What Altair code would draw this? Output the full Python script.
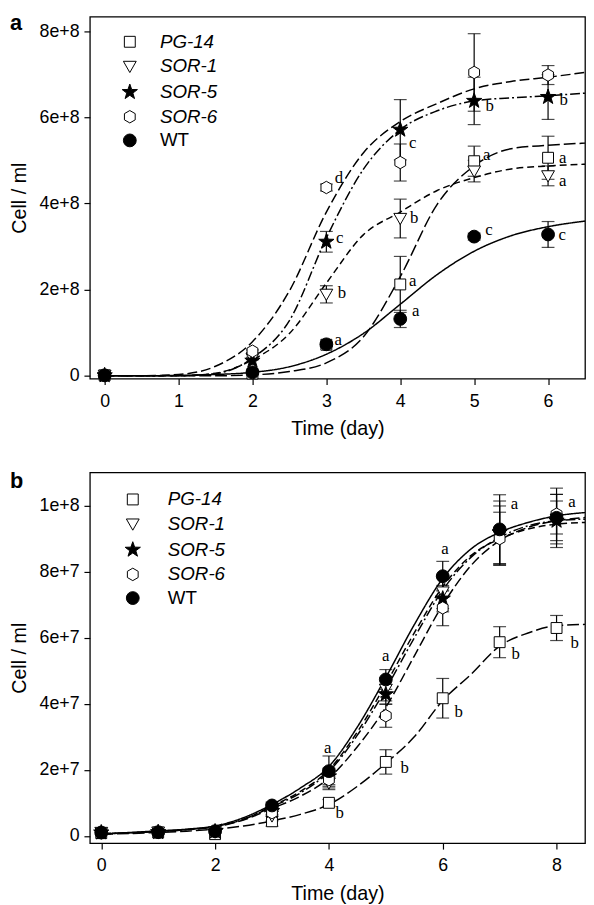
import altair as alt
import pandas as pd

strains = ["PG-14", "SOR-1", "SOR-5", "SOR-6", "WT"]
mutants = ["PG-14", "SOR-1", "SOR-5", "SOR-6"]

# ---------------- panel a ----------------
days_a = [0, 2, 3, 4, 5, 6]
a_pg14 = [0.01e8, 0.05e8, 0.72e8, 2.12e8, 4.98e8, 5.06e8]
a_pg14_err = [0, 0, 0, 0.65e8, 0.35e8, 0.50e8]
a_sor1 = [0.01e8, 0.40e8, 1.89e8, 3.65e8, 4.75e8, 4.64e8]
a_sor1_err = [0, 0.03e8, 0.20e8, 0.45e8, 0.25e8, 0.23e8]
a_sor5 = [0.01e8, 0.35e8, 3.11e8, 5.71e8, 6.38e8, 6.47e8]
a_sor5_err = [0, 0, 0.24e8, 0.70e8, 0.55e8, 0.52e8]
a_sor6 = [0.01e8, 0.57e8, 4.37e8, 4.95e8, 7.04e8, 6.98e8]
a_sor6_err = [0, 0.03e8, 0.08e8, 0.43e8, 0.90e8, 0.22e8]
a_wt = [0.01e8, 0.08e8, 0.73e8, 1.32e8, 3.23e8, 3.28e8]
a_wt_err = [0, 0.02e8, 0.05e8, 0.20e8, 0.08e8, 0.30e8]

curve_x_a = [0, 0.5, 1, 1.5, 2, 2.5, 3, 3.5, 4, 4.5, 5, 5.5, 6, 6.5]
fit_a_pg14 = [0, 0, 0, 0, 0.02e8, 0.10e8, 0.30e8, 0.90e8, 2.30e8, 3.98e8, 4.87e8, 5.27e8, 5.35e8, 5.40e8]
fit_a_sor1 = [0, 0, 0, 0.06e8, 0.37e8, 0.98e8, 2.15e8, 3.27e8, 3.80e8, 4.30e8, 4.60e8, 4.80e8, 4.87e8, 4.91e8]
fit_a_sor5 = [0, 0, 0, 0.05e8, 0.41e8, 1.28e8, 3.20e8, 4.79e8, 5.71e8, 6.15e8, 6.38e8, 6.45e8, 6.50e8, 6.56e8]
fit_a_sor6 = [0, 0, 0.03e8, 0.22e8, 0.79e8, 1.97e8, 3.80e8, 5.17e8, 5.90e8, 6.32e8, 6.66e8, 6.83e8, 6.93e8, 7.04e8]
fit_a_wt = [0, 0, 0.01e8, 0.03e8, 0.08e8, 0.21e8, 0.50e8, 0.98e8, 1.66e8, 2.35e8, 2.89e8, 3.25e8, 3.46e8, 3.59e8]

letters_a = ["d", "c", "b", "a", "c", "b", "a", "a", "b", "a", "c", "b", "a", "a", "c"]
letters_a_x = [3.17, 3.18, 3.21, 3.16, 4.17, 4.19, 4.17, 4.21, 5.21, 5.17, 5.20, 6.21, 6.20, 6.20, 6.19]
letters_a_y = [4.58e8, 3.19e8, 1.93e8, 0.84e8, 5.40e8, 3.65e8, 2.20e8, 1.51e8, 6.26e8, 5.12e8, 3.38e8,
               6.40e8, 5.06e8, 4.51e8, 3.27e8]

# ---------------- panel b ----------------
days_b = [0, 1, 2, 3, 4, 5, 6, 7, 8]
b_pg14 = [0.08e7, 0.10e7, 0.05e7, 0.44e7, 1.00e7, 2.24e7, 4.17e7, 5.87e7, 6.30e7]
b_pg14_err = [0, 0, 0, 0.15e7, 0.10e7, 0.37e7, 0.60e7, 0.47e7, 0.38e7]
b_sor1 = [0.10e7, 0.11e7, 0.12e7, 0.60e7, 1.60e7, 4.44e7, 7.39e7, 9.10e7, 9.60e7]
b_sor1_err = [0, 0, 0, 0.15e7, 0.20e7, 0.35e7, 0.50e7, 0.90e7, 0.75e7]
b_sor5 = [0.10e7, 0.11e7, 0.13e7, 0.75e7, 1.80e7, 4.29e7, 7.19e7, 9.20e7, 9.55e7]
b_sor5_err = [0, 0, 0, 0.10e7, 0.25e7, 0.30e7, 0.40e7, 0.95e7, 0.60e7]
b_sor6 = [0.09e7, 0.10e7, 0.12e7, 0.70e7, 1.70e7, 3.64e7, 6.91e7, 9.01e7, 9.75e7]
b_sor6_err = [0, 0, 0, 0.10e7, 0.25e7, 0.35e7, 0.54e7, 0.80e7, 0.60e7]
b_wt = [0.10e7, 0.11e7, 0.14e7, 0.92e7, 1.96e7, 4.74e7, 7.87e7, 9.29e7, 9.64e7]
b_wt_err = [0.05e7, 0.05e7, 0.05e7, 0.10e7, 0.46e7, 0.30e7, 0.45e7, 1.05e7, 0.90e7]

curve_x_b = [0, 0.5, 1, 1.5, 2, 2.5, 3, 3.5, 4, 4.5, 5, 5.5, 6, 6.5, 7, 7.5, 8, 8.5]
fit_b_pg14 = [0.05e7, 0.07e7, 0.10e7, 0.14e7, 0.20e7, 0.30e7, 0.45e7, 0.65e7, 0.95e7, 1.50e7, 2.20e7, 3.00e7,
              4.10e7, 4.90e7, 5.75e7, 6.15e7, 6.37e7, 6.41e7]
fit_b_sor1 = [0.06e7, 0.09e7, 0.13e7, 0.19e7, 0.28e7, 0.50e7, 0.90e7, 1.35e7, 2.00e7, 3.15e7, 4.60e7, 6.15e7,
              7.55e7, 8.50e7, 9.00e7, 9.30e7, 9.45e7, 9.50e7]
fit_b_sor5 = [0.06e7, 0.09e7, 0.13e7, 0.19e7, 0.28e7, 0.50e7, 0.88e7, 1.30e7, 1.95e7, 3.05e7, 4.45e7, 6.00e7,
              7.45e7, 8.45e7, 9.05e7, 9.40e7, 9.55e7, 9.60e7]
fit_b_sor6 = [0.06e7, 0.09e7, 0.13e7, 0.18e7, 0.27e7, 0.48e7, 0.83e7, 1.20e7, 1.75e7, 2.70e7, 3.90e7, 5.45e7,
              7.00e7, 8.20e7, 8.95e7, 9.35e7, 9.55e7, 9.65e7]
fit_b_wt = [0.06e7, 0.10e7, 0.15e7, 0.20e7, 0.30e7, 0.55e7, 0.95e7, 1.45e7, 2.10e7, 3.30e7, 4.80e7, 6.40e7,
            7.80e7, 8.70e7, 9.20e7, 9.50e7, 9.70e7, 9.80e7]

letters_b = ["a", "a", "a", "a", "a", "b", "b", "b", "b", "b"]
letters_b_x = [3.98, 5.00, 6.04, 7.26, 8.27, 4.19, 5.33, 6.28, 7.28, 8.32]
letters_b_y = [2.66e7, 5.44e7, 8.69e7, 10.07e7, 10.11e7, 0.70e7, 2.04e7, 3.74e7, 5.51e7, 5.84e7]

# ---------------- styling ----------------
STAR = ("M0,-1.25L0.294,-0.405L1.189,-0.386L0.476,0.155L0.735,1.011L0,0.5L-0.735,1.011"
        "L-0.476,0.155L-1.189,-0.386L-0.294,-0.405Z")
HEX = "M0,-0.97L0.84,-0.485L0.84,0.485L0,0.97L-0.84,0.485L-0.84,-0.485Z"
SQUARE = "M-0.85,-0.85L0.85,-0.85L0.85,0.85L-0.85,0.85Z"
TRI = "M-1,-0.8L1,-0.8L0,0.95Z"
mut_shapes = [SQUARE, TRI, STAR, HEX]
mut_fills = ["white", "white", "black", "white"]
dash_range = [[12, 4], [7, 4], [10, 3, 2, 3], [10, 4], [1, 0]]
width_range = [1.5, 1.5, 1.5, 1.5, 2.2]


def long_points(days, series, errs):
    rows = []
    for s, vals, ev in zip(strains, series, errs):
        for d, v, e in zip(days, vals, ev):
            rows.append({"strain": s, "wt": s, "day": d, "val": v, "lo": v - e, "hi": v + e, "err": e})
    return pd.DataFrame(rows)


def long_curves(xs, series):
    rows = []
    for s, vals in zip(strains, series):
        for x, v in zip(xs, vals):
            rows.append({"strain": s, "day": x, "val": v})
    return pd.DataFrame(rows)


def make_legend(lx, ly, style, off):
    return alt.Legend(
        title=None, orient="none", legendX=lx, legendY=ly, padding=0,
        labelFont="Liberation Sans", labelFontSize=19, labelColor="black", labelFontStyle=style,
        symbolSize=169, symbolStrokeWidth=1, rowPadding=5, labelOffset=off,
    )


def panel(pts, curves, lets, xdom, ydom, xticks, yticks, w, h, tag, tag_y, leg_x, leg_y, lab_off):
    xs = alt.Scale(domain=xdom, nice=False, zero=False)
    ys = alt.Scale(domain=ydom, nice=False, zero=False)
    xax = alt.Axis(values=xticks, title="Time (day)", format="d")
    yax = alt.Axis(values=yticks, title="Cell / ml",
                   labelExpr="datum.value == 0 ? '0' : format(datum.value, '.0e')")
    X = alt.X("day:Q", scale=xs, axis=xax)
    Y = alt.Y("val:Q", scale=ys, axis=yax)

    lines = alt.Chart(curves).mark_line(interpolate="monotone", color="black", clip=True).encode(
        x=X, y=Y,
        strokeDash=alt.StrokeDash("strain:N", scale=alt.Scale(domain=strains, range=dash_range), legend=None),
        strokeWidth=alt.StrokeWidth("strain:N", scale=alt.Scale(domain=strains, range=width_range), legend=None),
    )
    errs = alt.Chart(pts[pts["err"] > 0]).mark_errorbar(
        ticks={"size": 13, "thickness": 1.2, "color": "black"}, thickness=1.2, color="black"
    ).encode(
        x=alt.X("day:Q", scale=xs),
        y=alt.Y("lo:Q", scale=ys, title="Cell / ml"),
        y2="hi:Q",
    )
    leg_m = make_legend(leg_x, leg_y, "italic", lab_off)
    leg_w = make_legend(leg_x, leg_y + 100, "normal", lab_off)
    mut_pts = alt.Chart(pts[pts["strain"] != "WT"]).mark_point(
        size=169, strokeWidth=1, opacity=1, fillOpacity=1, strokeOpacity=1
    ).encode(
        x=alt.X("day:Q", scale=xs),
        y=alt.Y("val:Q", scale=ys),
        shape=alt.Shape("strain:N", scale=alt.Scale(domain=mutants, range=mut_shapes), legend=leg_m),
        fill=alt.Fill("strain:N", scale=alt.Scale(domain=mutants, range=mut_fills), legend=leg_m),
        stroke=alt.Stroke("strain:N", scale=alt.Scale(domain=mutants, range=["black"] * 4), legend=leg_m),
    )
    wt_pts = alt.Chart(pts[pts["strain"] == "WT"]).mark_point(
        size=169, strokeWidth=1, opacity=1, fillOpacity=1, strokeOpacity=1
    ).encode(
        x=alt.X("day:Q", scale=xs),
        y=alt.Y("val:Q", scale=ys),
        shape=alt.Shape("wt:N", scale=alt.Scale(domain=["WT"], range=["circle"]), legend=leg_w),
        fill=alt.Fill("wt:N", scale=alt.Scale(domain=["WT"], range=["black"]), legend=leg_w),
        stroke=alt.Stroke("wt:N", scale=alt.Scale(domain=["WT"], range=["black"]), legend=leg_w),
    )
    texts = alt.Chart(lets).mark_text(font="Liberation Serif", fontSize=17, color="black",
                                      align="center", baseline="middle").encode(
        x=alt.X("x:Q", scale=xs), y=alt.Y("y:Q", scale=ys), text="t:N")
    label = alt.Chart(pd.DataFrame({"t": [tag]})).mark_text(
        font="Liberation Sans", fontSize=22, fontWeight="bold", color="black", align="left", baseline="middle"
    ).encode(text="t:N", x=alt.value(-81), y=alt.value(tag_y))
    return alt.layer(lines, errs, mut_pts, wt_pts, texts, label).resolve_scale(
        shape="independent", fill="independent", stroke="independent"
    ).properties(width=w, height=h)


pts_a = long_points(days_a, [a_pg14, a_sor1, a_sor5, a_sor6, a_wt],
                    [a_pg14_err, a_sor1_err, a_sor5_err, a_sor6_err, a_wt_err])
cur_a = long_curves(curve_x_a, [fit_a_pg14, fit_a_sor1, fit_a_sor5, fit_a_sor6, fit_a_wt])
let_a = pd.DataFrame({"t": letters_a, "x": letters_a_x, "y": letters_a_y})

pts_b = long_points(days_b, [b_pg14, b_sor1, b_sor5, b_sor6, b_wt],
                    [b_pg14_err, b_sor1_err, b_sor5_err, b_sor6_err, b_wt_err])
cur_b = long_curves(curve_x_b, [fit_b_pg14, fit_b_sor1, fit_b_sor5, fit_b_sor6, fit_b_wt])
let_b = pd.DataFrame({"t": letters_b, "x": letters_b_x, "y": letters_b_y})

pa = panel(pts_a, cur_a, let_a, [-0.2, 6.5], [-0.066e8, 8.336e8], [0, 1, 2, 3, 4, 5, 6],
           [0, 2e8, 4e8, 6e8, 8e8], 502, 367, "a", 6.5, 31, 16, 21)
pb = panel(pts_b, cur_b, let_b, [-0.2, 8.5], [-0.224e7, 11.02e7], [0, 2, 4, 6, 8],
           [0, 2e7, 4e7, 6e7, 8e7, 10e7], 502, 376, "b", 9, 34, 18, 26)

chart = alt.vconcat(pa, pb, spacing=30).resolve_scale(
    shape="independent", fill="independent", stroke="independent",
    strokeDash="independent", strokeWidth="independent"
).resolve_legend(shape="independent", fill="independent", stroke="independent").configure_view(
    stroke="black", strokeWidth=1.3
).configure_axis(
    labelFont="Liberation Sans", labelFontSize=18, labelColor="black",
    titleFont="Liberation Sans", titleFontSize=20, titleFontWeight="normal", titleColor="black",
    tickColor="black", tickSize=6, tickWidth=1.2, domain=False, grid=False,
    labelPadding=5, titlePadding=10,
).configure_axisX(labelPadding=8, titlePadding=9).properties(
    padding={"left": 0, "top": -3.5, "right": 0, "bottom": 0}
)

chart.save("out.html", embed_options={"renderer": "svg", "actions": False})
